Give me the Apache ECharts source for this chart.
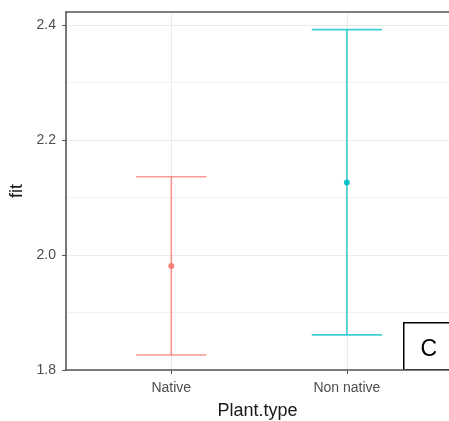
<!DOCTYPE html>
<html><head><meta charset="utf-8">
<script src="https://cdn.jsdelivr.net/npm/echarts@6/dist/echarts.min.js"></script>
<style>html,body{margin:0;padding:0;background:#fff}#c{width:449px;height:421px}</style>
</head><body><div id="c"></div>
<script>
const categories = ['Native', 'Non native'];
const fitValues = [1.981, 2.126];
const lowerValues = [1.826, 1.861];
const upperValues = [2.136, 2.392];
const yTickLabels = [1.8, 2.0, 2.2, 2.4];
const colors = ['#F8766D', '#00BFC4'];

const data = categories.map((c, i) => [i + 1, fitValues[i], lowerValues[i], upperValues[i]]);

const chart = echarts.init(document.getElementById('c'), null, {renderer: 'canvas'});
const FONT = 'Liberation Sans, Arial, sans-serif';
chart.setOption({
  animation: false,
  backgroundColor: '#fff',
  grid: {left: 66, right: 0, top: 12, bottom: 51, containLabel: false, outerBoundsMode: 'none'},
  xAxis: [{
    type: 'value', min: 0.4, max: 2.582, position: 'bottom',
    name: 'Plant.type', nameLocation: 'middle', nameGap: 32,
    nameTextStyle: {color: '#1a1a1a', fontSize: 18, fontFamily: FONT},
    axisLine: {show: true, lineStyle: {color: '#555', width: 1.6}},
    axisTick: {show: true, customValues: [1, 2], length: 4, lineStyle: {color: '#555', width: 1}},
    axisLabel: {customValues: [1, 2], formatter: v => categories[Math.round(v) - 1] || '',
      color: '#4d4d4d', fontSize: 14, fontFamily: FONT, margin: 11},
    splitLine: {show: true, lineStyle: {color: '#ebebeb', width: 1}}
  }, {
    type: 'value', min: 0.4, max: 2.582, position: 'top',
    axisLine: {show: true, lineStyle: {color: '#555', width: 1.6}},
    axisTick: {show: false}, axisLabel: {show: false}, splitLine: {show: false}
  }],
  yAxis: [{
    type: 'value', min: 1.8, max: 2.4226, interval: 0.1, position: 'left',
    name: 'fit', nameLocation: 'middle', nameGap: 39,
    nameTextStyle: {color: '#1a1a1a', fontSize: 18, fontFamily: FONT},
    axisLine: {show: true, lineStyle: {color: '#555', width: 1.6}},
    axisTick: {show: false},
    axisLabel: {customValues: yTickLabels, formatter: v => v.toFixed(1),
      color: '#4d4d4d', fontSize: 14, fontFamily: FONT, margin: 10},
    splitLine: {show: true, lineStyle: {color: ['#ebebeb', '#f2f2f2'], width: 1}}
  }, {
    type: 'value', min: 1.8, max: 2.4226, position: 'left',
    axisLine: {show: false},
    axisTick: {show: true, customValues: yTickLabels, length: 4, lineStyle: {color: '#555', width: 1}},
    axisLabel: {show: false}, splitLine: {show: false}
  }],
  series: [{
    type: 'custom',
    xAxisIndex: 0, yAxisIndex: 0,
    data: data,
    renderItem: function (params, api) {
      const x = api.value(0);
      const i = params.dataIndex;
      const pFit = api.coord([x, api.value(1)]);
      const pLo = api.coord([x, api.value(2)]);
      const pHi = api.coord([x, api.value(3)]);
      const half = api.size([0.2, 0])[0];
      const col = colors[i];
      const ls = {stroke: col, lineWidth: 1.6, opacity: 0.75};
      return {type: 'group', children: [
        {type: 'line', shape: {x1: pLo[0], y1: pLo[1], x2: pHi[0], y2: pHi[1]}, style: ls},
        {type: 'line', shape: {x1: pLo[0] - half, y1: pLo[1], x2: pLo[0] + half, y2: pLo[1]}, style: ls},
        {type: 'line', shape: {x1: pHi[0] - half, y1: pHi[1], x2: pHi[0] + half, y2: pHi[1]}, style: ls},
        {type: 'circle', shape: {cx: pFit[0], cy: pFit[1], r: 3}, style: {fill: col, opacity: 0.9}}
      ]};
    }
  }],
  graphic: [{
    type: 'group', left: 403, top: 322, children: [
      {type: 'rect', shape: {x: 0, y: 0, width: 50, height: 47}, style: {fill: '#fff', stroke: '#000', lineWidth: 1.5}},
      {type: 'text', style: {x: 25, y: 27, text: 'C', fill: '#000', font: '23px "Liberation Sans", Arial, sans-serif', align: 'center', verticalAlign: 'middle'}}
    ]
  }]
});
</script></body></html>
